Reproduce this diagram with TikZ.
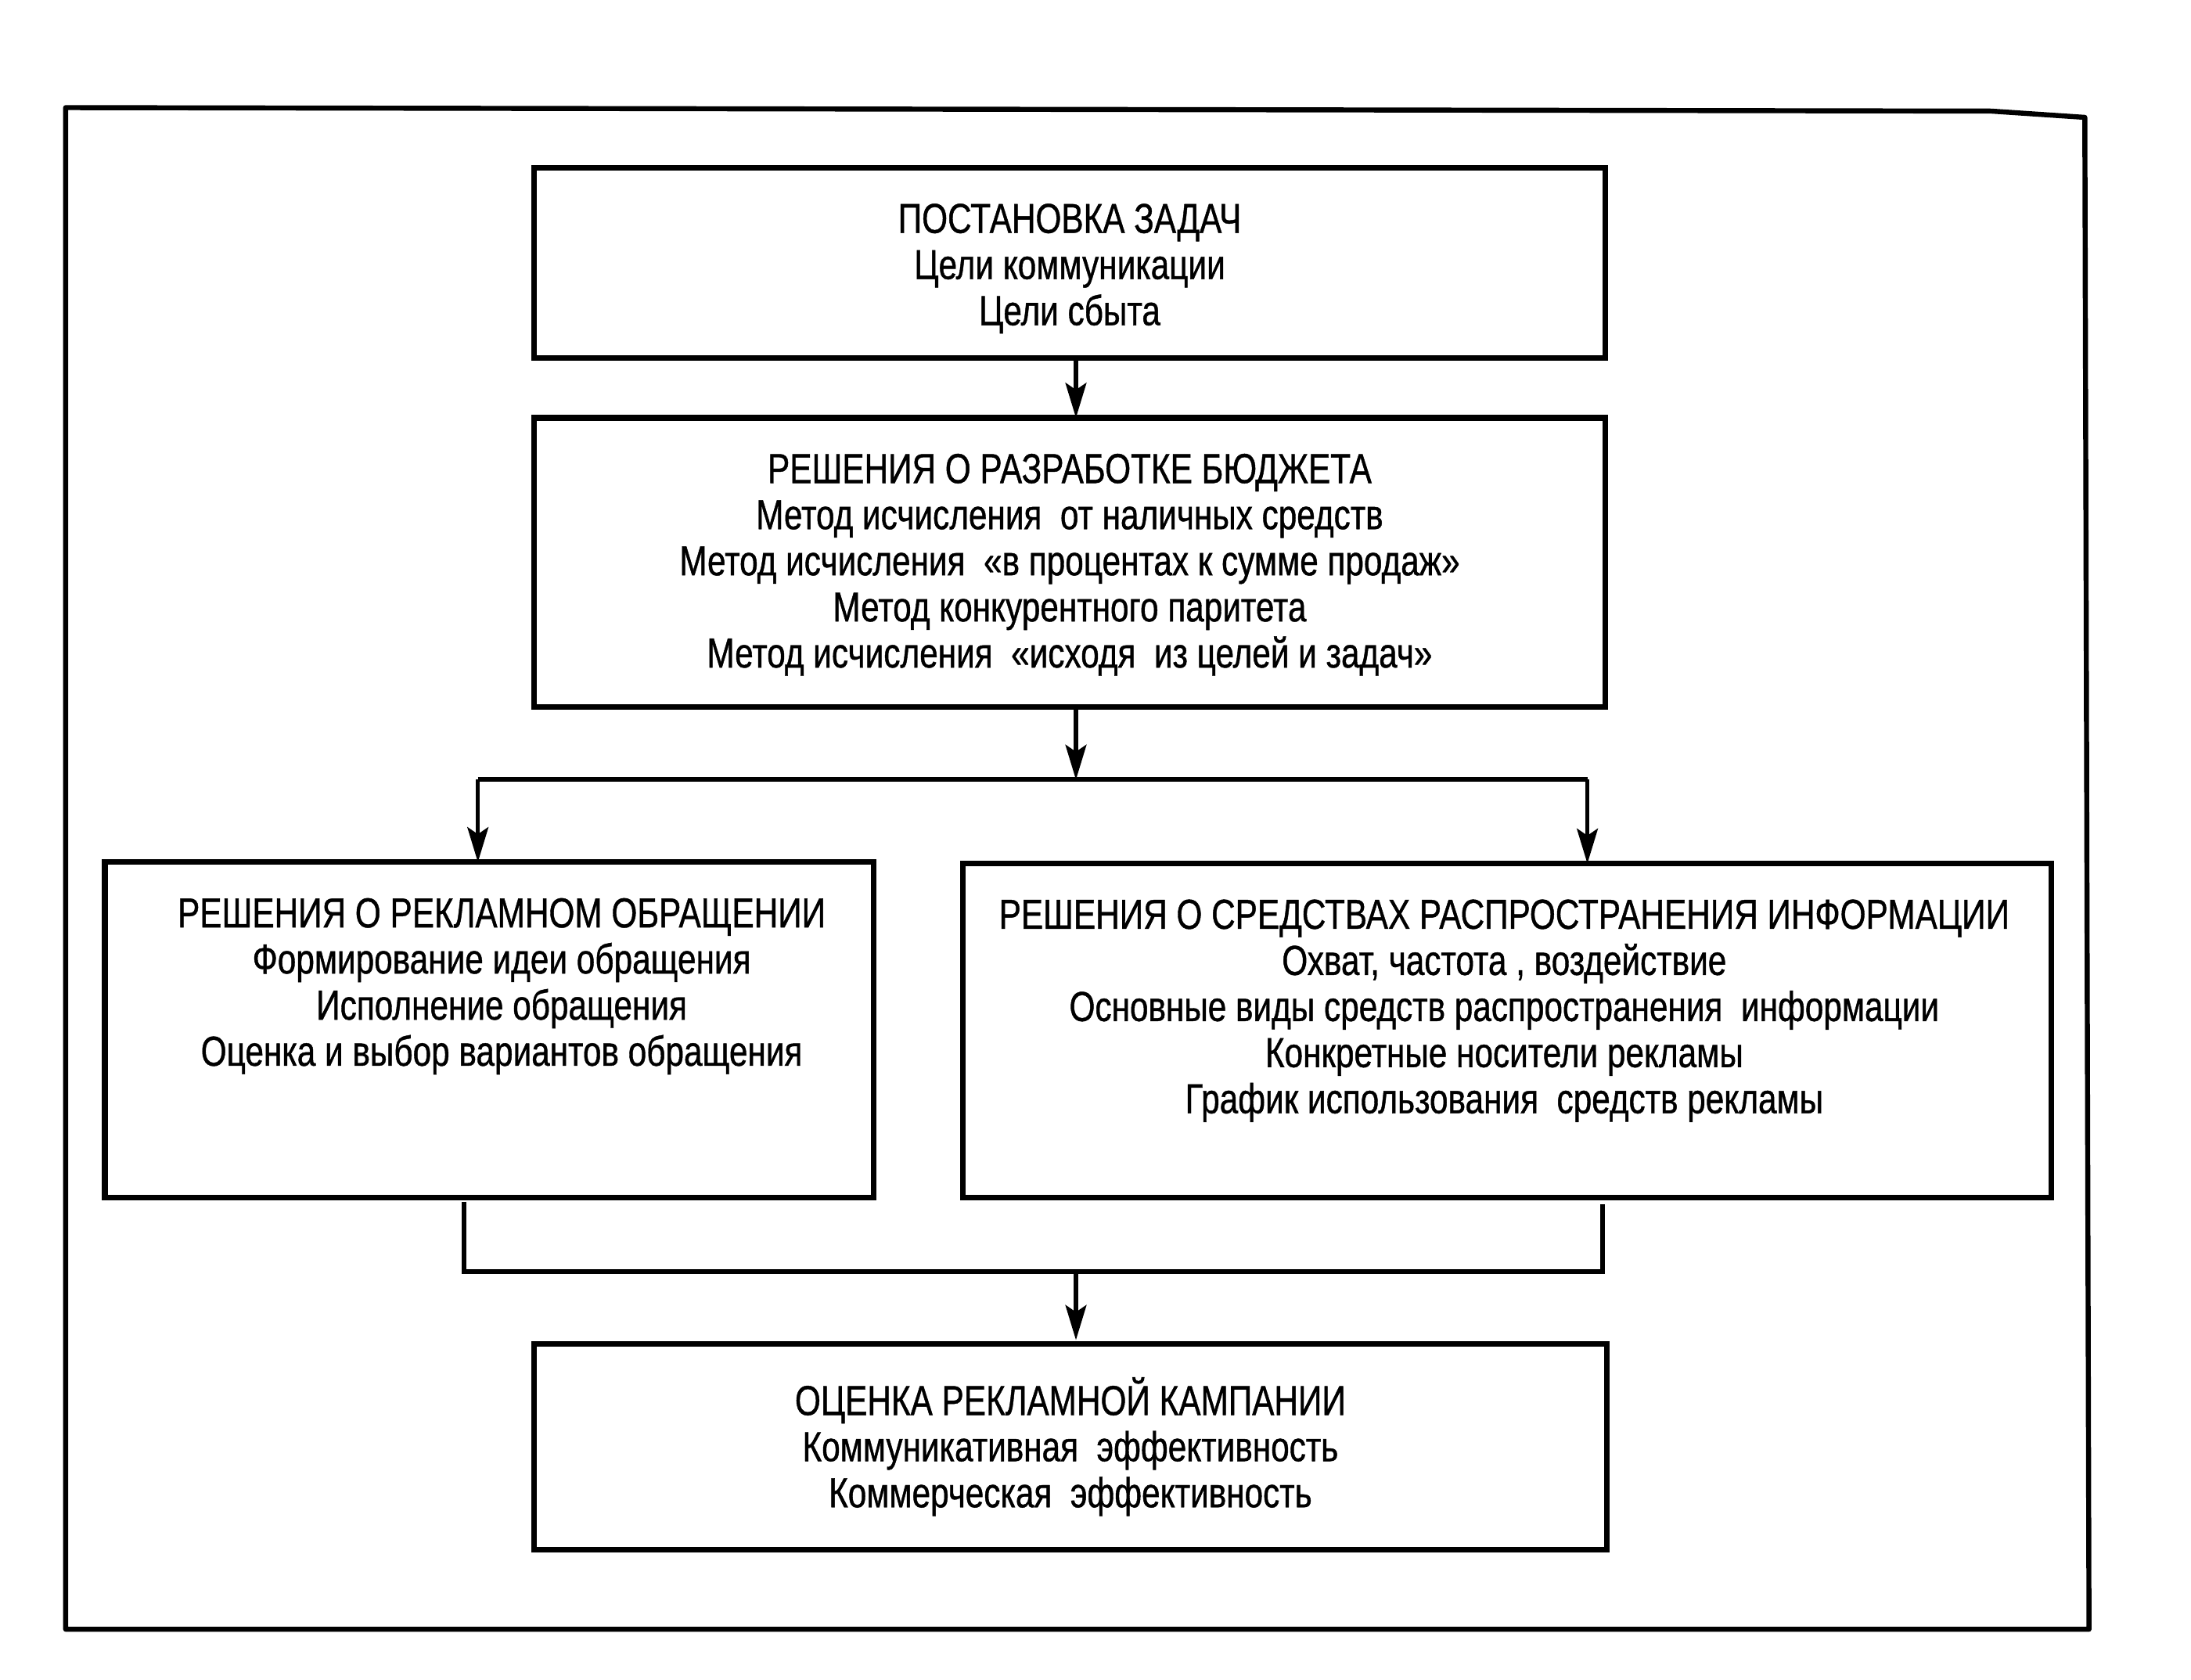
\documentclass[tikz,border=0pt]{standalone}
\usepackage{fontspec}
\newfontfamily\diagf{Liberation Sans}[FakeStretch=0.79,FakeBold=0.8]
\usetikzlibrary{arrows.meta}
\begin{document}
\begin{tikzpicture}[x=1pt,y=-1pt,
  box/.style={draw=black,line width=4pt,inner sep=0pt,outer sep=0pt,anchor=north west},
  txt/.style={font=\diagf\fontsize{30}{33}\selectfont,align=center,inner sep=0pt,anchor=north},
  conn/.style={draw=black,line width=3.4pt,line join=miter},
  arr/.style={draw=black,line width=2.9pt,-{Stealth[length=25pt,width=15pt,inset=5pt]}},
  frame/.style={draw=black,line width=3.6pt,line join=round}]
\useasboundingbox (0,0) rectangle (1568,1201.8);
% outer frame
\draw[frame] (47,77) -- (1425,79.5) -- (1492,84) -- (1495,1166) -- (47,1166) -- cycle;
% boxes
\node[box,minimum width=767pt,minimum height=136pt] (b1) at (382,120) {};
\node[box,minimum width=767pt,minimum height=207pt] (b2) at (382,299) {};
\node[box,minimum width=550pt,minimum height=240pt] (b3) at (75,617) {};
\node[box,minimum width=779pt,minimum height=239pt] (b4) at (689,618) {};
\node[box,minimum width=768pt,minimum height=147pt] (b5) at (382,962) {};
% texts
\node[txt] (t1) at ([yshift=-23.4pt]b1.north) {\strut ПОСТАНОВКА ЗАДАЧ\\Цели коммуникации\\Цели сбыта};
\node[txt] (t2) at ([yshift=-23.4pt]b2.north) {\strut РЕШЕНИЯ О РАЗРАБОТКЕ БЮДЖЕТА\\Метод исчисления\ \ от наличных средств\\Метод исчисления\ \ «в процентах к сумме продаж»\\Метод конкурентного паритета\\Метод исчисления\ \ «исходя\ \ из целей и задач»};
\node[txt] (t3) at ([xshift=9pt,yshift=-23.4pt]b3.north) {\strut РЕШЕНИЯ О РЕКЛАМНОМ ОБРАЩЕНИИ\\Формирование идеи обращения\\Исполнение обращения\\Оценка и выбор вариантов обращения};
\node[txt] (t4) at ([xshift=-2pt,yshift=-23.4pt]b4.north) {\strut РЕШЕНИЯ О СРЕДСТВАХ РАСПРОСТРАНЕНИЯ ИНФОРМАЦИИ\\Охват, частота , воздействие\\Основные виды средств распространения\ \ информации\\Конкретные носители рекламы\\График использования\ \ средств рекламы};
\node[txt] (t5) at ([yshift=-23.4pt]b5.north) {\strut ОЦЕНКА РЕКЛАМНОЙ КАМПАНИИ\\Коммуникативная\ \ эффективность\\Коммерческая\ \ эффективность};
% connector coordinates
\coordinate (xa) at (770,0);
\coordinate (hl) at (342,558);
\coordinate (hr) at (1136,558);
\coordinate (jl) at (332,860);
\coordinate (jr) at (1147,862);
\coordinate (jb) at (770,910);
% connectors
\draw[arr] (b1.south -| xa) -- (b2.north -| xa);
\draw[arr] (b2.south -| xa) -- (xa |- hl);
\draw[conn] (hl) -- (hr);
\draw[arr] (hl) -- (b3.north -| hl);
\draw[arr] (hr) -- (b4.north -| hr);
\draw[conn] (jl) |- (jb) -| (jr);
\draw[arr] (jb) -- ([yshift=3pt]b5.north -| jb);
\end{tikzpicture}
\end{document}
